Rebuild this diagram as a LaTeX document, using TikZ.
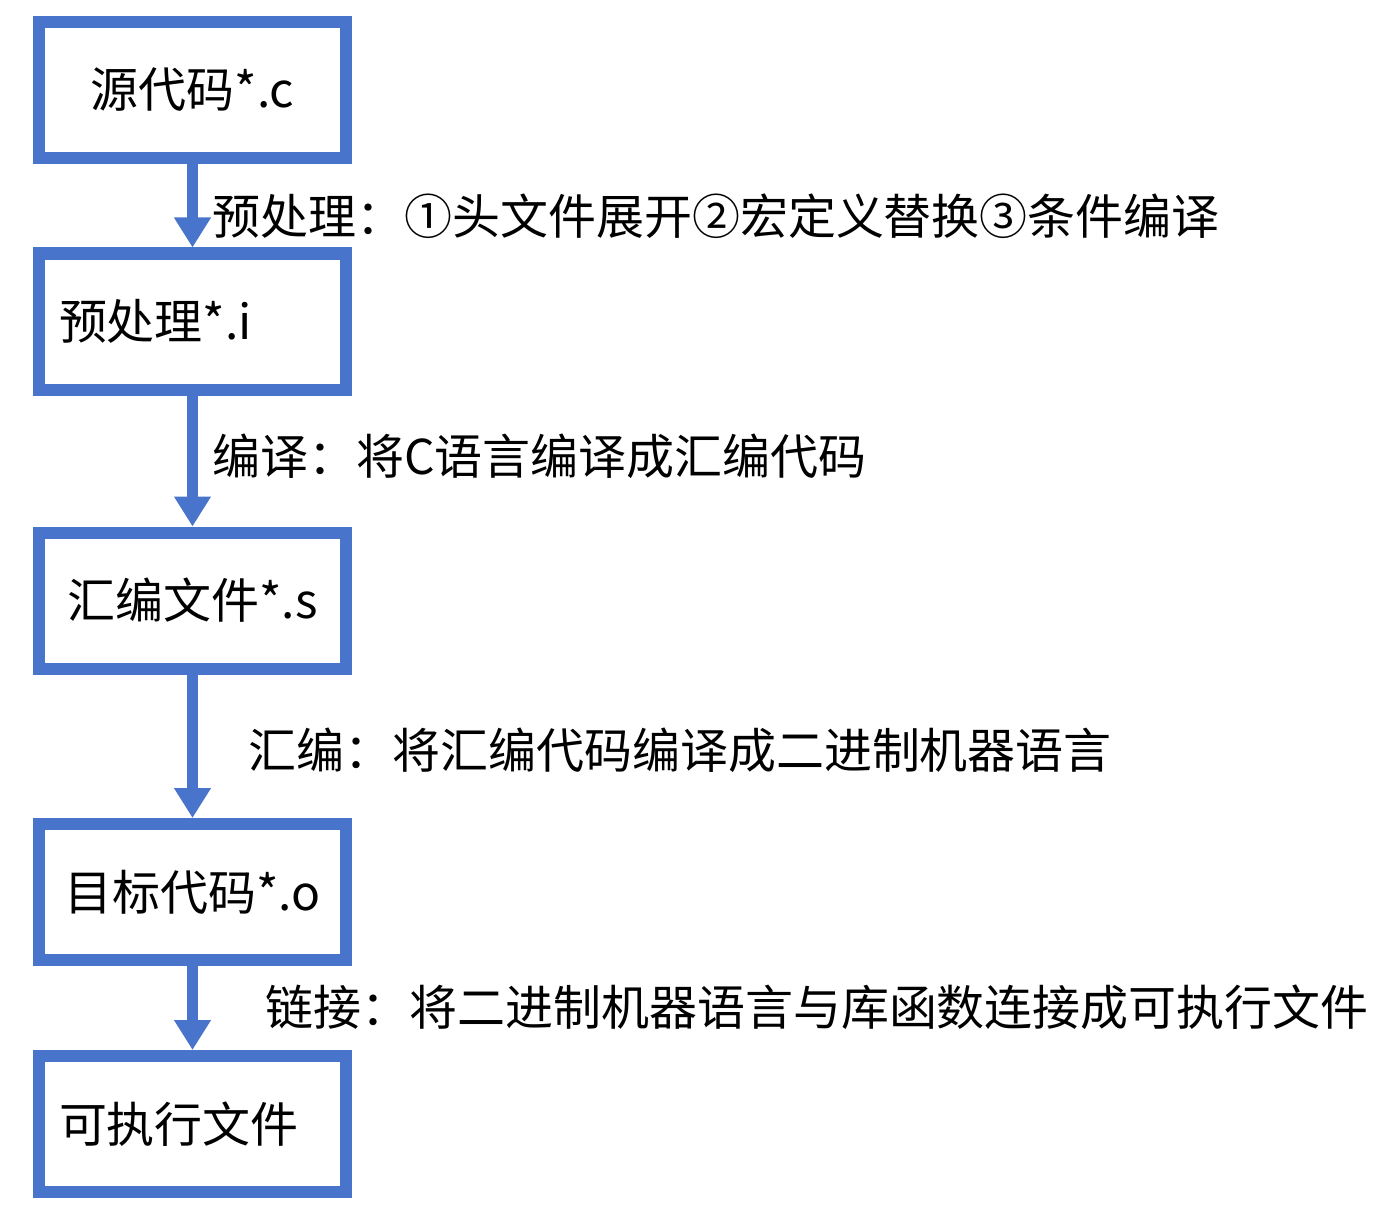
\documentclass[tikz,border=0pt]{standalone}
\usepackage{fontspec}
\setmainfont{Noto Sans CJK SC}
\usetikzlibrary{arrows.meta}
\definecolor{boxblue}{HTML}{4874CB}
\tikzset{
	stage/.style={draw=boxblue, line width=0.24cm, minimum width=6.14cm, minimum height=2.72cm, inner sep=0, font=\fontsize{27.3pt}{33pt}\selectfont},
	leftstage/.style={stage, inner xsep=0.4cm, text width=5.34cm, align=left},
	flow/.style={draw=boxblue, line width=0.22cm, -{Triangle[width=0.7cm, length=0.6cm]}},
	steplabel/.style={anchor=west, inner sep=0, font=\fontsize{27.3pt}{33pt}\selectfont}
}

\begin{document}
\begin{tikzpicture}
	\useasboundingbox (0, 0) rectangle (27.6, -24.28);
	% Stages:
	\node[stage](src) at (3.85, -1.80){源代码*.c};
	\node[leftstage](pre) at (3.85, -6.43){预处理*.i};
	\node[stage](asm) at (3.85, -12.01){汇编文件*.s};
	\node[stage](obj) at (3.85, -17.84){目标代码*.o};
	\node[leftstage](exe) at (3.85, -22.48){可执行文件};
	% Arrows and labels:
	\draw[flow] (src) -- (pre);
	\draw[flow] (pre) -- (asm);
	\draw[flow] (asm) -- (obj);
	\draw[flow] (obj) -- (exe);
	\node[steplabel](l1) at (4.24, -4.32){预处理：①头文件展开②宏定义替换③条件编译};
	\node[steplabel](l2) at (4.24, -9.12){编译：将C语言编译成汇编代码};
	\node[steplabel](l3) at (4.96, -15.00){汇编：将汇编代码编译成二进制机器语言};
	\node[steplabel](l4) at (5.30, -20.14){链接：将二进制机器语言与库函数连接成可执行文件};
\end{tikzpicture}
\end{document}
